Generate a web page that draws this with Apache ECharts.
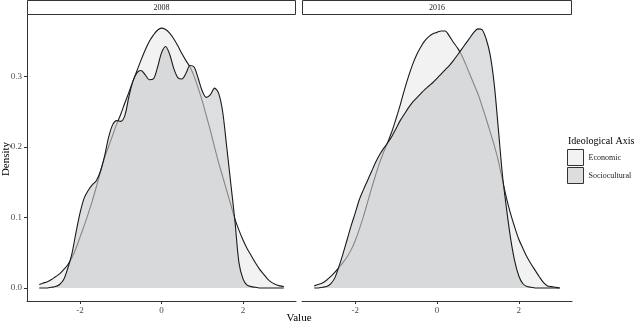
<!DOCTYPE html>
<html><head><meta charset="utf-8">
<script src="https://cdn.jsdelivr.net/npm/echarts@6/dist/echarts.min.js"></script>
<style>html,body{margin:0;padding:0;background:#fff}#c{width:640px;height:323px}</style>
</head><body><div id="c"></div>
<script>
const panels = ['2008', '2016'];
const seriesNames = ['Economic', 'Sociocultural'];
const xTicks = [-2, 0, 2];
const yTicks = [0, 0.1, 0.2, 0.3];
const xs = [-3.0,-2.9,-2.8,-2.7,-2.6,-2.5,-2.4,-2.3,-2.2,-2.1,-2.0,-1.9,-1.8,-1.7,-1.6,-1.5,-1.4,-1.3,-1.2,-1.1,-1.0,-0.9,-0.8,-0.7,-0.6,-0.5,-0.4,-0.3,-0.2,-0.1,0.0,0.1,0.2,0.3,0.4,0.5,0.6,0.7,0.8,0.9,1.0,1.1,1.2,1.3,1.4,1.5,1.6,1.7,1.8,1.9,2.0,2.1,2.2,2.3,2.4,2.5,2.6,2.7,2.8,2.9,3.0];
const economic2008 = [0.005,0.007,0.009,0.012,0.016,0.020,0.026,0.033,0.043,0.056,0.072,0.088,0.105,0.123,0.143,0.164,0.184,0.200,0.216,0.232,0.246,0.262,0.277,0.293,0.308,0.323,0.337,0.349,0.358,0.365,0.368,0.366,0.361,0.353,0.343,0.332,0.322,0.313,0.300,0.283,0.265,0.244,0.223,0.200,0.178,0.158,0.138,0.118,0.098,0.082,0.068,0.056,0.046,0.036,0.027,0.020,0.013,0.008,0.005,0.003,0.002];
const sociocultural2008 = [0.000,0.000,0.000,0.001,0.002,0.005,0.012,0.028,0.048,0.078,0.106,0.127,0.138,0.146,0.152,0.165,0.186,0.213,0.231,0.237,0.236,0.244,0.271,0.293,0.305,0.308,0.302,0.295,0.296,0.312,0.333,0.342,0.331,0.311,0.298,0.296,0.304,0.315,0.313,0.297,0.279,0.270,0.274,0.283,0.276,0.250,0.200,0.148,0.096,0.036,0.013,0.004,0.002,0.001,0.000,0.000,0.000,0.000,0.000,0.000,0.000];
const economic2016 = [0.003,0.005,0.007,0.011,0.016,0.022,0.029,0.036,0.044,0.054,0.067,0.083,0.101,0.121,0.141,0.160,0.178,0.193,0.207,0.222,0.240,0.259,0.280,0.299,0.316,0.330,0.341,0.350,0.356,0.360,0.362,0.364,0.364,0.357,0.348,0.340,0.330,0.317,0.303,0.289,0.275,0.258,0.240,0.221,0.202,0.180,0.153,0.127,0.105,0.086,0.069,0.056,0.044,0.034,0.025,0.016,0.008,0.003,0.002,0.001,0.000];
const sociocultural2016 = [0.000,0.000,0.001,0.002,0.006,0.014,0.030,0.048,0.068,0.088,0.106,0.125,0.139,0.152,0.165,0.178,0.189,0.198,0.206,0.215,0.226,0.237,0.246,0.255,0.263,0.269,0.275,0.281,0.286,0.291,0.297,0.303,0.309,0.315,0.322,0.330,0.338,0.346,0.354,0.362,0.367,0.366,0.353,0.330,0.288,0.225,0.160,0.112,0.070,0.038,0.017,0.006,0.002,0.001,0.000,0.000,0.000,0.000,0.000,0.000,0.000];

const panelData = [[economic2008, sociocultural2008], [economic2016, sociocultural2016]];
const FONT = 'Liberation Serif';
const fills = ['#f2f2f2', '#dcdddf'];
const grids = [{left: 27, top: 15, width: 269, height: 286}, {left: 302, top: 15, width: 270, height: 286}];

const chart = echarts.init(document.getElementById('c'), null, {renderer: 'canvas'});
const xAxes = [], yAxes = [], series = [], graphics = [];
panels.forEach((p, i) => {
  xAxes.push({type: 'value', gridIndex: i, min: -3.3, max: 3.3,
    axisLine: {show: true, onZero: false, lineStyle: {color: '#333', width: 1}},
    axisTick: {show: true, customValues: xTicks, length: 3, lineStyle: {color: '#333'}},
    axisLabel: {customValues: xTicks, color: '#4d4d4d', fontFamily: FONT, fontSize: 9, margin: 5},
    splitLine: {show: false}});
  yAxes.push({type: 'value', gridIndex: i, min: -0.0184, max: 0.3866,
    axisLine: {show: i === 0, onZero: false, lineStyle: {color: '#333', width: 1}},
    axisTick: {show: i === 0, customValues: yTicks, length: 3, lineStyle: {color: '#333'}},
    axisLabel: {show: i === 0, customValues: yTicks, formatter: v => v.toFixed(1), color: '#4d4d4d', fontFamily: FONT, fontSize: 9, margin: 5},
    splitLine: {show: false}});
  panelData[i].forEach((arr, k) => {
    series.push({type: 'line', name: seriesNames[k], xAxisIndex: i, yAxisIndex: i,
      data: xs.map((x, j) => [x, arr[j]]), smooth: 0.3, symbol: 'none', showSymbol: false,
      lineStyle: {color: '#1a1a1a', width: 1.1},
      itemStyle: {color: fills[k]},
      areaStyle: k === 0 ? {color: '#f2f2f2', opacity: 1} : {color: '#c8cacd', opacity: 0.62},
      z: 2 + k, silent: true});
  });
  const g = grids[i];
  graphics.push({type: 'rect', shape: {x: g.left + 0.5, y: 0.5, width: g.width - 1, height: 14}, style: {fill: '#fff', stroke: '#333', lineWidth: 1}});
  graphics.push({type: 'text', x: g.left + g.width / 2, y: 8, style: {text: p, fontFamily: FONT, fontSize: 8, fill: '#1a1a1a', textAlign: 'center', textVerticalAlign: 'middle'}});
});
graphics.push({type: 'text', x: 299, y: 318, style: {text: 'Value', fontFamily: FONT, fontSize: 11, fill: '#000', textAlign: 'center', textVerticalAlign: 'middle'}});
graphics.push({type: 'text', x: 6, y: 159, rotation: Math.PI / 2, style: {text: 'Density', fontFamily: FONT, fontSize: 11, fill: '#000', textAlign: 'center', textVerticalAlign: 'middle'}});
graphics.push({type: 'text', x: 568, y: 141, style: {text: 'Ideological Axis', fontFamily: FONT, fontSize: 10, fill: '#000', textAlign: 'left', textVerticalAlign: 'middle'}});

chart.setOption({
  animation: false,
  textStyle: {fontFamily: FONT},
  grid: grids.map(g => Object.assign({containLabel: false}, g)),
  xAxis: xAxes, yAxis: yAxes, series: series,
  legend: {orient: 'vertical', left: 567, top: 149, itemWidth: 16, itemHeight: 16, itemGap: 1, icon: 'rect', selectedMode: false,
    padding: 0, data: seriesNames, itemStyle: {borderColor: '#333', borderWidth: 1},
    textStyle: {fontFamily: FONT, fontSize: 8, color: '#1a1a1a'}},
  graphic: graphics
});
</script></body></html>
